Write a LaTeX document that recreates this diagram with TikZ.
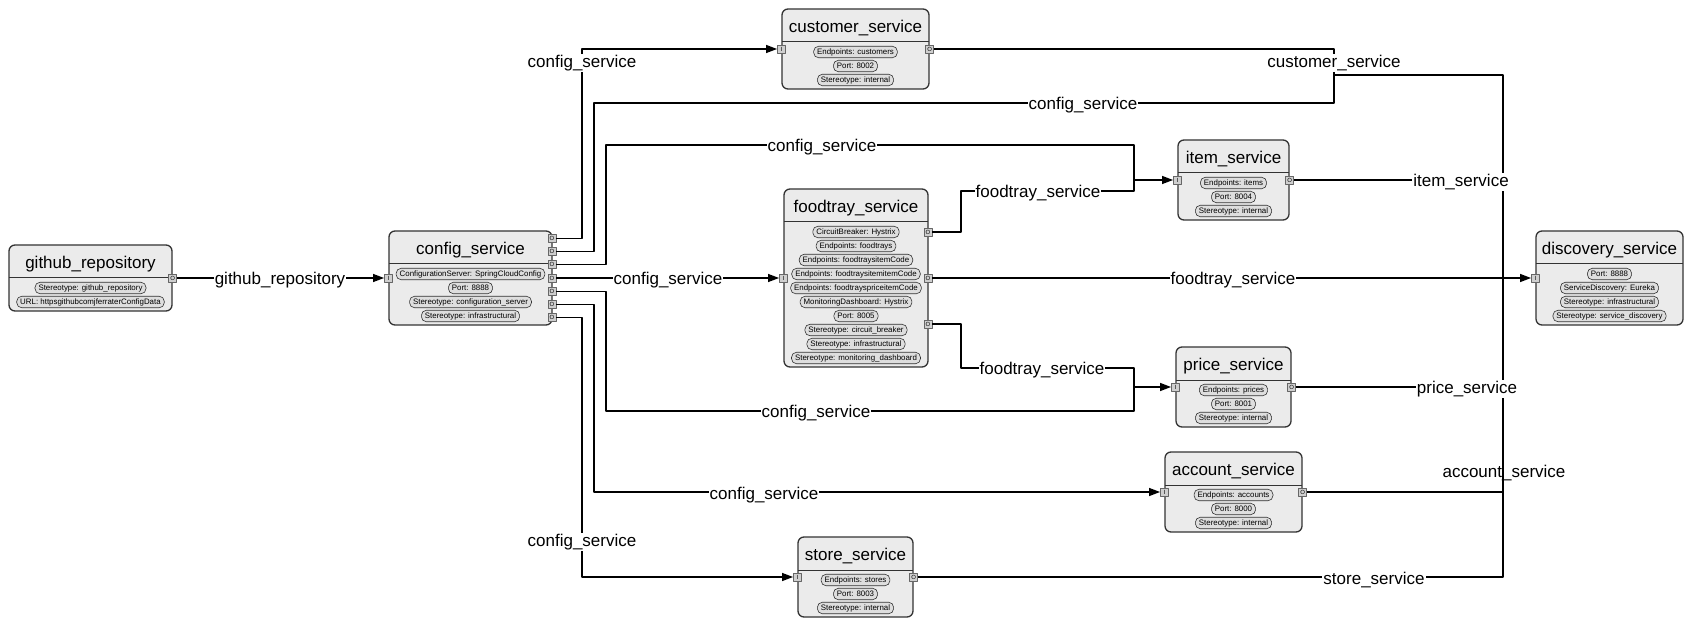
\documentclass[tikz,border=0pt]{standalone}
\usepackage{fontspec}
\setmainfont{Liberation Sans}
\usetikzlibrary{arrows.meta}
\definecolor{svcgray}{HTML}{EBEBEB}
\definecolor{pillgray}{HTML}{DEDEDE}
\definecolor{portgray}{HTML}{CFCFCF}
\definecolor{edgegray}{HTML}{333333}
\begin{document}
\begin{tikzpicture}[x=1pt, y=-1pt, line join=round, >={Triangle[length=11pt,width=8pt]},
	svc/.style={draw=edgegray, line width=1.3pt, fill=svcgray, rounded corners=6pt, inner sep=0pt},
	svctitle/.style={inner sep=0pt, font=\fontsize{17}{17}\selectfont},
	pill/.style={draw=edgegray, line width=0.6pt, fill=pillgray, rounded corners=5pt, inner xsep=3.5pt, inner ysep=0pt, minimum height=11.5pt, font=\fontsize{7.9}{8}\selectfont},
	port/.style={draw=gray!80!black, line width=0.6pt, fill=portgray, minimum size=8pt, inner sep=0pt, font=\fontsize{6}{6}\selectfont},
	flow/.style={line width=1.3pt, ->},
	link/.style={line width=1.3pt},
	lbl/.style={fill=white, inner sep=1pt, yshift=-2pt, font=\fontsize{17}{17}\selectfont}]
	\useasboundingbox (0,0) rectangle (1684,620);
	\def\svcbox#1#2#3#4#5#6#7{% name, title, left, top, width, number of pills, pills
		\node[svc, minimum width=#5, minimum height={38+14*#6}] (#1) at ({#3+#5/2},{#4+19+7*#6}) {};
		\node[svctitle] (#1-t) at ({#3+#5/2},{#4+19}) {#2};
		\draw[edgegray, line width=1pt] ({#3},{#4+33}) -- ({#3+#5},{#4+33});
		\foreach \p [count=\k] in {#7} \node[pill] (#1-p\k) at ({#3+#5/2},{#4+43+14*(\k-1)}) {\p};
	}
	% services
	\svcbox{gh}{github\_repository}{9}{245}{163}{2}{Stereotype: github\_repository, URL: httpsgithubcomjferraterConfigData}
	\svcbox{cfg}{config\_service}{389}{231}{163}{4}{ConfigurationServer: SpringCloudConfig, Port: 8888, Stereotype: configuration\_server, Stereotype: infrastructural}
	\svcbox{cust}{customer\_service}{782}{9}{147}{3}{Endpoints: customers, Port: 8002, Stereotype: internal}
	\svcbox{ft}{foodtray\_service}{784}{189}{144}{10}{CircuitBreaker: Hystrix, Endpoints: foodtrays, Endpoints: foodtraysitemCode, Endpoints: foodtraysitemitemCode, Endpoints: foodtrayspriceitemCode, MonitoringDashboard: Hystrix, Port: 8005, Stereotype: circuit\_breaker, Stereotype: infrastructural, Stereotype: monitoring\_dashboard}
	\svcbox{item}{item\_service}{1178}{140}{111}{3}{Endpoints: items, Port: 8004, Stereotype: internal}
	\svcbox{disc}{discovery\_service}{1536}{231}{147}{4}{Port: 8888, ServiceDiscovery: Eureka, Stereotype: infrastructural, Stereotype: service\_discovery}
	\svcbox{price}{price\_service}{1176}{347}{115}{3}{Endpoints: prices, Port: 8001, Stereotype: internal}
	\svcbox{acct}{account\_service}{1165}{452}{137}{3}{Endpoints: accounts, Port: 8000, Stereotype: internal}
	\svcbox{store}{store\_service}{798}{537}{115}{3}{Endpoints: stores, Port: 8003, Stereotype: internal}
	% ports
	\node[port] (gh-o) at (gh.east) {O};
	\foreach \s in {cfg,cust,ft,item,disc,price,acct,store} \node[port] (\s-i) at (\s.west) {I};
	\foreach \s in {cust,item,price,acct,store} \node[port] (\s-o) at (\s.east) {O};
	\foreach \k in {1,...,7} \node[port] (cfg-o\k) at (552,{278+13.2*(\k-4)}) {O};
	\node[port] (ft-o1) at (928,232) {O};
	\node[port] (ft-o2) at (928,278) {O};
	\node[port] (ft-o3) at (928,324) {O};
	% junctions
	\coordinate (jcust) at (1334,75);
	\coordinate (jitem) at (1134,180);
	\coordinate (jprice) at (1134,387);
	\coordinate (bus) at (1503,278);
	% connectors
	\draw[flow] (gh-o) -- (cfg-i);
	\draw[flow] (cfg-o1) -- ++(30,0) |- (cust-i);
	\draw[link] (cfg-o2) -| (594,103) -| (jcust);
	\draw[flow] (cfg-o3) -| (606,145) -| (jitem) -- (item-i);
	\draw[flow] (cfg-o4) -- (ft-i);
	\draw[flow] (cfg-o5) -| (606,411) -| (jprice) -- (price-i);
	\draw[flow] (cfg-o6) -- ++(42,0) |- (acct-i);
	\draw[flow] (cfg-o7) -- ++(30,0) |- (store-i);
	\draw[link] (ft-o1) -| (961,191) -| (jitem);
	\draw[link] (ft-o3) -| (961,368) -| (jprice);
	\draw[flow] (ft-o2) -- (disc-i);
	\draw[link] (cust-o) -| (jcust) -| (bus);
	\foreach \s in {item,price,acct,store} \draw[link] (\s-o) -| (bus);
	% labels
	\node[lbl] (l-gh) at (280,278) {github\_repository};
	\node[lbl] (l-cfg1) at (582,61) {config\_service};
	\node[lbl] (l-cfg2) at (1083,103) {config\_service};
	\node[lbl] (l-cfg3) at (822,145) {config\_service};
	\node[lbl] (l-cfg4) at (668,278) {config\_service};
	\node[lbl] (l-cfg5) at (816,411) {config\_service};
	\node[lbl] (l-cfg6) at (764,493) {config\_service};
	\node[lbl] (l-cfg7) at (582,540) {config\_service};
	\node[lbl] (l-ft1) at (1038,191) {foodtray\_service};
	\node[lbl] (l-ft2) at (1233,278) {foodtray\_service};
	\node[lbl] (l-ft3) at (1042,368) {foodtray\_service};
	\node[lbl] (l-cust) at (1334,61) {customer\_service};
	\node[lbl] (l-item) at (1461,180) {item\_service};
	\node[lbl] (l-price) at (1467,387) {price\_service};
	\node[lbl, fill=none] (l-acct) at (1504,471) {account\_service};
	\node[lbl] (l-store) at (1374,578) {store\_service};
\end{tikzpicture}
\end{document}
